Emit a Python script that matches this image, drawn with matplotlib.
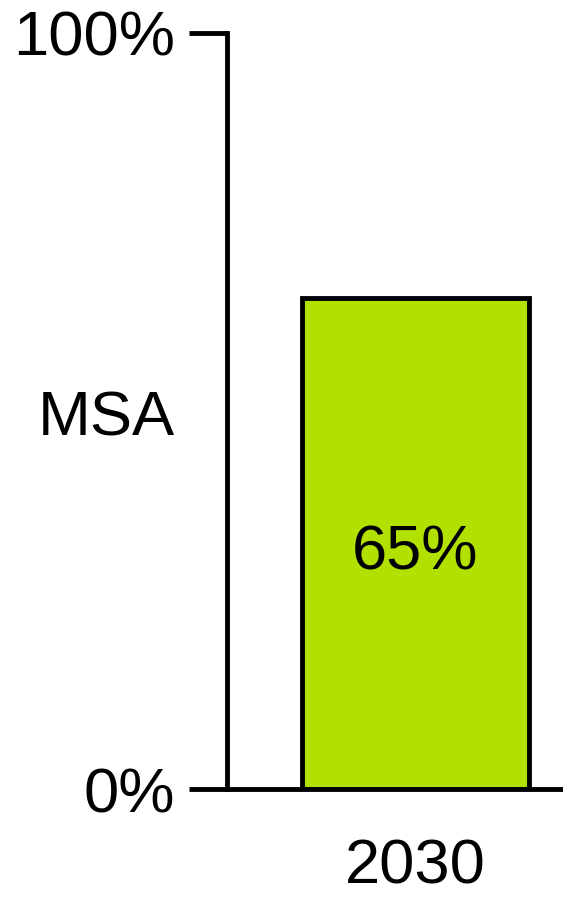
import matplotlib
matplotlib.use('Agg')
import matplotlib.pyplot as plt

# chart data
categories = ['2030']
values = [65]
value_labels = ['65%']
y_ticks = [0, 100]
y_tick_labels = ['0%', '100%']
y_label = 'MSA'

BAR_COLOR = '#b1e001'
LW = 3.5
FS = 45.5

plt.rcParams['font.family'] = ['Liberation Sans', 'DejaVu Sans']

fig = plt.figure(figsize=(5.63, 8.97), dpi=100)
ax = fig.add_axes([227 / 563, 1 - 789 / 897, 336 / 563, (789 - 33) / 897])

x = list(range(len(categories)))
ax.bar(x, values, width=0.6, color=BAR_COLOR, edgecolor='black',
       linewidth=LW, zorder=2)
for xi, v, lab in zip(x, values, value_labels):
    ax.text(xi, v / 2 - 1.3, lab, ha='center', va='center', fontsize=FS)

ax.set_xlim(-0.498, 0.39)
ax.set_ylim(0, 100)

ax.set_yticks(y_ticks)
ax.set_yticklabels(y_tick_labels, fontsize=FS)
ax.tick_params(axis='y', length=27.5, width=LW, pad=10)

ax.set_xticks(x)
ax.set_xticklabels(categories, fontsize=FS)
ax.tick_params(axis='x', length=0, pad=35)

ax.set_ylabel(y_label, fontsize=FS, rotation=0, ha='right', va='center')
ax.yaxis.set_label_coords(-52 / 336, 0.489)

for side in ['top', 'right']:
    ax.spines[side].set_visible(False)
for side in ['left', 'bottom']:
    ax.spines[side].set_linewidth(LW)
    ax.spines[side].set_zorder(3)
ax.spines['bottom'].set_capstyle('butt')

fig.savefig('out.png', dpi=100)
